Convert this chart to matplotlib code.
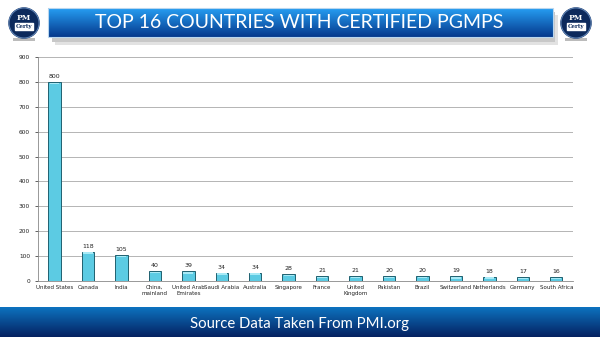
import matplotlib.pyplot as plt
import numpy as np
from matplotlib.patches import Circle, Rectangle

countries = ['United States', 'Canada', 'India', 'China,\nmainland', 'United Arab\nEmirates',
             'Saudi Arabia', 'Australia', 'Singapore', 'France', 'United\nKingdom', 'Pakistan',
             'Brazil', 'Switzerland', 'Netherlands', 'Germany', 'South Africa']
pgmps = [800, 118, 105, 40, 39, 34, 34, 28, 21, 21, 20, 20, 19, 18, 17, 16]
yticks = list(range(0, 1000, 100))

title = 'TOP 16 COUNTRIES WITH CERTIFIED PGMPS'
footer = 'Source Data Taken From PMI.org'

fig = plt.figure(figsize=(6, 3.37), dpi=100)

# background decorations in pixel coords
bg = fig.add_axes([0, 0, 1, 1])
bg.set_xlim(0, 600)
bg.set_ylim(337, 0)
bg.axis('off')

def gradient(ax, x0, x1, y0, y1, c_top, c_bot, z=1):
    t = np.linspace(0, 1, 64)[:, None]
    c0 = np.array(c_top)
    c1 = np.array(c_bot)
    img = (c0 * (1 - t) + c1 * t)[:, None, :]
    ax.imshow(img, extent=[x0, x1, y1, y0], aspect='auto', zorder=z, interpolation='bilinear')

# title banner with shadow
bg.add_patch(Rectangle((55, 15), 503, 30, color='#e2e2e2', zorder=0.5, lw=0))
bg.add_patch(Rectangle((52, 12), 503, 30, color='#c8c8c8', zorder=0.6, lw=0))
gradient(bg, 48, 553, 8, 37, (0.15, 0.62, 0.95), (0.02, 0.22, 0.55))
bg.add_patch(Rectangle((48, 8), 505, 29, fill=False, ec='#b9d6ee', lw=0.8, zorder=2))
bg.text(299, 23, title, color='white', fontsize=14, family='Lato',
        ha='center', va='center', zorder=3)

# footer band
gradient(bg, 0, 600, 307, 337, (0.05, 0.45, 0.75), (0.02, 0.13, 0.38))
bg.text(300, 324, footer, color='white', fontsize=10.7, family='Lato',
        ha='center', va='center', zorder=3)

# logos
for cx in (24, 576):
    bg.add_patch(Rectangle((cx - 11, 38), 22, 3, color='#bbbbbb', zorder=1, lw=0))
    bg.add_patch(Circle((cx, 23), 15, color='#0d2a5c', zorder=2))
    bg.add_patch(Circle((cx, 23), 15, fill=False, ec='#5b7fb0', lw=0.8, zorder=2))
    bg.text(cx, 18, 'PM', color='white', fontsize=5.5, family='DejaVu Serif',
            weight='bold', ha='center', va='center', zorder=3)
    bg.add_patch(Rectangle((cx - 9, 23), 18, 7, color='white', zorder=3))
    bg.text(cx, 26.5, 'Certy', color='#0d2a5c', fontsize=4, family='DejaVu Serif',
            weight='bold', ha='center', va='center', zorder=4)

ax = fig.add_axes([0.063, 0.166, 0.892, 0.665])
x = np.arange(len(countries))
ax.bar(x, pgmps, width=0.37, color='#5ccbe3', edgecolor='#1f6070', lw=0.7, zorder=3)
# light top cap for the bevel look
ax.bar(x, [6] * len(pgmps), bottom=np.array(pgmps) - 9, width=0.29, color='#a8eaf6',
       lw=0, zorder=4)
for xi, v in zip(x, pgmps):
    ax.text(xi, v + 12, str(v), ha='center', va='bottom', fontsize=4.5, color='#222222')

ax.set_xlim(-0.5, len(countries) - 0.5)
ax.set_ylim(0, 900)
ax.set_yticks(yticks)
ax.set_xticks(x)
ax.set_xticklabels(countries, fontsize=4.0, color='#222222')
ax.tick_params(axis='y', labelsize=4.2, colors='#222222', length=2, width=0.5)
ax.tick_params(axis='x', length=0, pad=3)
ax.grid(axis='y', color='#a8a8a8', lw=0.6, zorder=0)
for s in ('top', 'right'):
    ax.spines[s].set_visible(False)
ax.spines['left'].set_color('#888888')
ax.spines['bottom'].set_color('#888888')
ax.spines['left'].set_linewidth(0.6)
ax.spines['bottom'].set_linewidth(0.6)
ax.patch.set_alpha(0)

fig.savefig('out.png', dpi=100)
